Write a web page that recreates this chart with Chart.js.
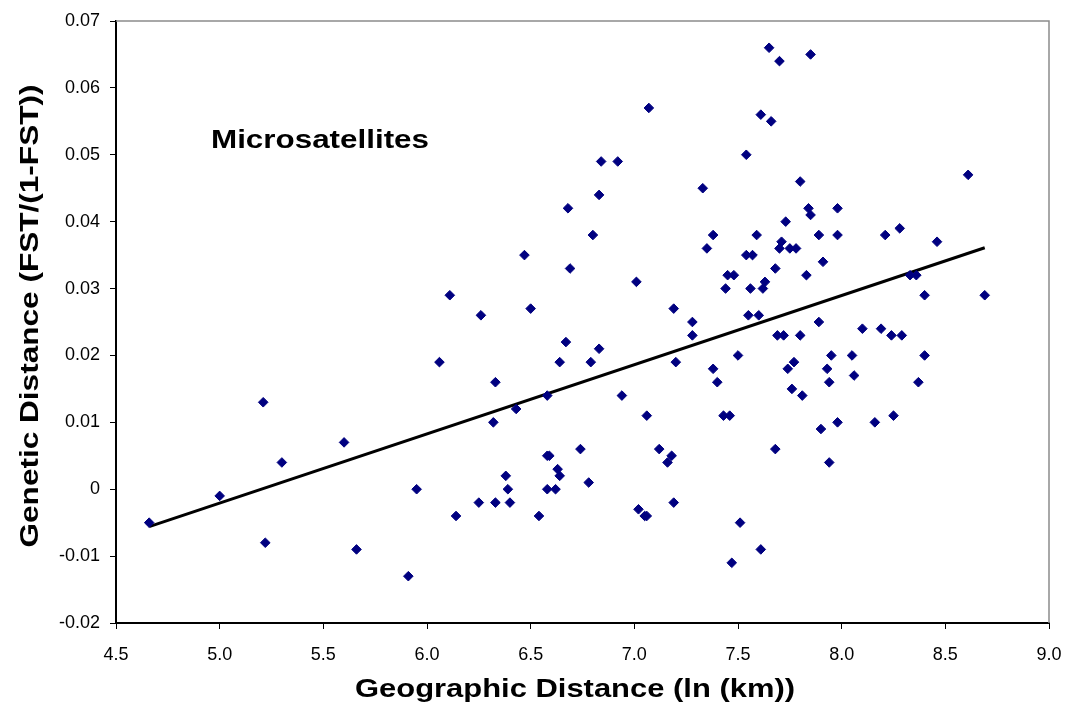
<!DOCTYPE html>
<html>
<head>
<meta charset="utf-8">
<script src="https://cdn.jsdelivr.net/npm/chart.js@4"></script>
<style>
  body { margin: 0; background: #fff; }
  #wrap { width: 1065px; height: 715px; }
</style>
</head>
<body>
<div id="wrap"><canvas id="chart" width="1065" height="715"></canvas></div>
<script>
// Geographic distance (ln km) for each pair of populations
const geoDist = [
  4.66, 5.00, 5.21, 5.22, 5.30, 5.60, 5.66, 5.91, 5.95, 6.06,
  6.11, 6.14, 6.25, 6.26, 6.32, 6.33, 6.33, 6.38, 6.39, 6.40,
  6.43, 6.47, 6.50, 6.54, 6.58, 6.58, 6.59, 6.58, 6.62, 6.63,
  6.64, 6.64, 6.67, 6.68, 6.69, 6.74, 6.78, 6.79, 6.80, 6.83,
  6.83, 6.84, 6.92, 6.94, 7.01, 7.02, 7.05, 7.06, 7.06, 7.07,
  7.12, 7.16, 7.18, 7.19, 7.19, 7.20, 7.28, 7.28, 7.33, 7.35,
  7.38, 7.38, 7.40, 7.43, 7.44, 7.45, 7.46, 7.47, 7.48, 7.50,
  7.51, 7.54, 7.54, 7.55, 7.56, 7.57, 7.59, 7.60, 7.61, 7.61,
  7.62, 7.63, 7.65, 7.66, 7.68, 7.68, 7.69, 7.70, 7.70, 7.71,
  7.72, 7.73, 7.74, 7.75, 7.76, 7.77, 7.78, 7.80, 7.80, 7.81,
  7.83, 7.84, 7.85, 7.85, 7.89, 7.89, 7.90, 7.91, 7.93, 7.94,
  7.94, 7.95, 7.98, 7.98, 7.98, 8.05, 8.06, 8.10, 8.16, 8.19,
  8.21, 8.24, 8.25, 8.28, 8.29, 8.33, 8.36, 8.37, 8.40, 8.40,
  8.46, 8.61, 8.69
];

// Genetic distance FST/(1-FST), same order as geoDist
const genDist = [
  -0.005, -0.001, 0.013, -0.008, 0.004, 0.007, -0.009, -0.013, 0.000, 0.019,
  0.029, -0.004, -0.002, 0.026, 0.010, 0.016, -0.002, 0.002, 0.000, -0.002,
  0.012, 0.035, 0.027, -0.004, 0.014, 0.005, 0.005, 0.000, 0.000, 0.003,
  0.002, 0.019, 0.022, 0.042, 0.033, 0.006, 0.001, 0.019, 0.038, 0.021,
  0.044, 0.049, 0.049, 0.014, 0.031, -0.003, -0.004, -0.004, 0.011, 0.057,
  0.006, 0.004, 0.005, -0.002, 0.027, 0.019, 0.025, 0.023, 0.045, 0.036,
  0.038, 0.018, 0.016, 0.011, 0.030, 0.032, 0.011, -0.011, 0.032, 0.020,
  -0.005, 0.035, 0.050, 0.026, 0.030, 0.035, 0.038, 0.026, 0.056, -0.009,
  0.030, 0.031, 0.066, 0.055, 0.033, 0.006, 0.023, 0.064, 0.036, 0.037,
  0.023, 0.040, 0.018, 0.036, 0.015, 0.019, 0.036, 0.046, 0.023, 0.014,
  0.032, 0.042, 0.041, 0.065, 0.038, 0.025, 0.009, 0.034, 0.018, 0.016,
  0.004, 0.020, 0.042, 0.038, 0.010, 0.020, 0.017, 0.024, 0.010, 0.024,
  0.038, 0.023, 0.011, 0.039, 0.023, 0.032, 0.032, 0.016, 0.029, 0.020,
  0.037, 0.047, 0.029
];

// regression line end points as drawn
const trendX = [4.66, 8.69];
const trendY = [-0.0056, 0.0361];

const xTicks = [4.5, 9.0, 0.5];     // min, max, step
const yTicks = [-0.02, 0.07, 0.01];

const FONT = "'Liberation Sans', Arial, sans-serif";

const points = geoDist.map((x, i) => ({ x: x, y: genDist[i] }));
const trend = trendX.map((x, i) => ({ x: x, y: trendY[i] }));

// text drawn squeezed/stretched to a given width, like the excel export
function drawText(ctx, text, x, y, width, rotate) {
  ctx.save();
  ctx.translate(x, y);
  if (rotate) ctx.rotate(-Math.PI / 2);
  const w = ctx.measureText(text).width;
  ctx.scale(width / w, 1);
  ctx.fillText(text, 0, 0);
  ctx.restore();
}

const extras = {
  id: 'extras',
  beforeDatasetsDraw(chart) {
    const { ctx, chartArea: a } = chart;
    ctx.save();
    ctx.strokeStyle = '#8c8c8c';
    ctx.lineWidth = 1.5;
    ctx.beginPath();
    ctx.moveTo(a.left, a.top);
    ctx.lineTo(a.right, a.top);
    ctx.lineTo(a.right, a.bottom);
    ctx.stroke();
    ctx.restore();
  },
  afterDraw(chart) {
    const ctx = chart.ctx;
    ctx.save();
    ctx.fillStyle = '#000';
    ctx.textAlign = 'center';
    ctx.textBaseline = 'middle';
    ctx.font = 'bold 25px ' + FONT;
    drawText(ctx, 'Microsatellites', 320, 141, 218, false);
    drawText(ctx, 'Geographic Distance (ln (km))', 575, 690, 440, false);
    drawText(ctx, 'Genetic Distance (FST/(1-FST))', 31, 316, 463, true);
    ctx.restore();
  }
};

var ctx = document.getElementById('chart').getContext('2d');
var chart = new Chart(ctx, {
  type: 'scatter',
  data: {
    datasets: [{
      label: 'Microsatellites',
      data: points,
      pointStyle: 'rectRot',
      pointRadius: 4.8,
      pointBorderWidth: 1,
      backgroundColor: '#000080',
      borderColor: '#000080'
    }, {
      type: 'line',
      label: 'Trend',
      data: trend,
      borderColor: '#000',
      borderWidth: 3,
      pointRadius: 0,
      fill: false
    }]
  },
  options: {
    responsive: false,
    animation: false,
    layout: { padding: { top: 21, right: 16, left: 0, bottom: 0 } },
    plugins: {
      legend: { display: false },
      tooltip: { enabled: false }
    },
    scales: {
      x: {
        type: 'linear',
        min: xTicks[0],
        max: xTicks[1],
        afterFit: s => { s.height = 92; s.paddingLeft = 0; s.paddingRight = 0; },
        ticks: {
          stepSize: xTicks[2],
          color: '#000',
          padding: 15,
          font: { family: FONT, size: 18 },
          callback: v => v.toFixed(1)
        },
        grid: { drawOnChartArea: false, drawTicks: true, tickLength: 6, color: '#000' },
        border: { display: true, color: '#000', width: 2 }
      },
      y: {
        type: 'linear',
        min: yTicks[0],
        max: yTicks[1],
        afterFit: s => { s.width = 116; },
        ticks: {
          stepSize: yTicks[2],
          color: '#000',
          padding: 10,
          font: { family: FONT, size: 18 },
          callback: v => Math.abs(v) < 1e-9 ? '0' : v.toFixed(2)
        },
        grid: { drawOnChartArea: false, drawTicks: true, tickLength: 6, color: '#000' },
        border: { display: true, color: '#000', width: 2 }
      }
    }
  },
  plugins: [extras]
});
</script>
</body>
</html>
